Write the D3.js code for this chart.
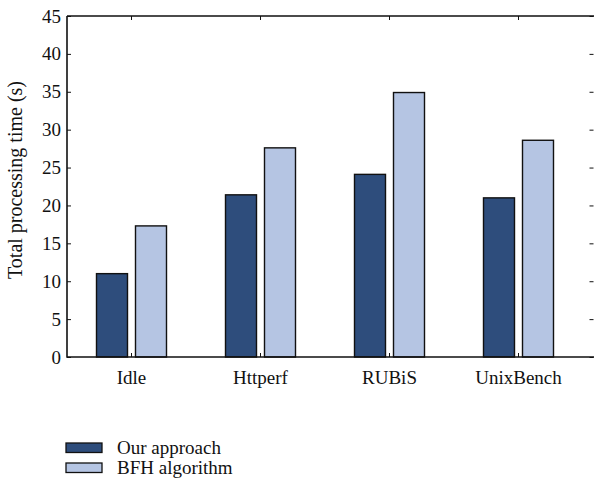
<!DOCTYPE html>
<html>
<head>
<meta charset="utf-8">
<script src="https://cdn.jsdelivr.net/npm/d3@7"></script>
<style>
  html, body { margin: 0; padding: 0; background: #fff; }
  svg { display: block; }
</style>
</head>
<body>
<svg id="chart" width="594" height="485"></svg>
<script>
// Benchmarks and processing times (seconds)
const categories = ["Idle", "Httperf", "RUBiS", "UnixBench"];
const seriesNames = ["Our approach", "BFH algorithm"];
const ourApproach = [11.0, 21.4, 24.1, 21.0];
const bfhAlgorithm = [17.3, 27.6, 34.9, 28.6];
const yTicks = [0, 5, 10, 15, 20, 25, 30, 35, 40, 45];
const colors = ["#2e4d7c", "#b5c5e3"];

const FONT = "'Liberation Serif', 'Times New Roman', serif";
const svg = d3.select("#chart").attr("font-family", FONT);
const plot = { left: 67, right: 595, top: 16, bottom: 357 };
const step = 129;

// Category band: centres spaced evenly from the left edge of the frame
const x = d3.scaleBand()
  .domain(categories)
  .range([plot.left, plot.left + step * categories.length])
  .paddingInner(0).paddingOuter(0);

const y = d3.scaleLinear().domain([0, 45]).range([plot.bottom, plot.top]);

const barW = 31, barOff = 19.5;
const series = [ourApproach, bfhAlgorithm];

// Bars
series.forEach((vals, si) => {
  svg.append("g").selectAll("rect")
    .data(categories.map((c, i) => ({ c, v: vals[i] })))
    .join("rect")
    .attr("x", d => x(d.c) + x.bandwidth() / 2 + (si === 0 ? -barOff : barOff) - barW / 2)
    .attr("y", d => y(d.v))
    .attr("width", barW)
    .attr("height", d => plot.bottom - y(d.v))
    .attr("fill", colors[si])
    .attr("stroke", "#111")
    .attr("stroke-width", 1.4);
});

function styleAxis(g) {
  g.attr("font-family", FONT).attr("font-size", 19);
  g.select(".domain").remove();
  g.selectAll("line").attr("stroke", "#111").attr("stroke-width", 1);
  g.selectAll("text").attr("fill", "#111");
}

// Left axis with labels, inward ticks
const gL = svg.append("g").attr("transform", `translate(${plot.left},0)`)
  .call(d3.axisLeft(y).tickValues(yTicks).tickSize(-4).tickPadding(6).tickFormat(d3.format("d")));
styleAxis(gL);

// Right-side inward ticks
const gR = svg.append("g").attr("transform", `translate(${plot.right - 1.5},0)`)
  .call(d3.axisRight(y).tickValues(yTicks).tickSize(-4).tickFormat(""));
styleAxis(gR);

// Bottom axis with category labels, inward ticks
const gB = svg.append("g").attr("transform", `translate(0,${plot.bottom})`)
  .call(d3.axisBottom(x).tickSize(-4).tickPadding(14));
styleAxis(gB);

// Top inward ticks
const gT = svg.append("g").attr("transform", `translate(0,${plot.top})`)
  .call(d3.axisTop(x).tickSize(-4).tickFormat(""));
styleAxis(gT);

// Frame
svg.append("path")
  .attr("d", `M${plot.left},${plot.top}H${plot.right}M${plot.left},${plot.top}V${plot.bottom}H${plot.right}`)
  .attr("fill", "none").attr("stroke", "#111").attr("stroke-width", 1.6);

// Y axis title
svg.append("text")
  .attr("transform", `translate(22,180) rotate(-90)`)
  .attr("text-anchor", "middle")
  .attr("font-size", 20)
  .attr("fill", "#111")
  .text("Total processing time (s)");

// Legend
const legend = svg.append("g").attr("transform", "translate(66,443)");
seriesNames.forEach((name, i) => {
  const g = legend.append("g").attr("transform", `translate(0,${i * 20})`);
  g.append("rect").attr("x", 0).attr("y", 0).attr("width", 36).attr("height", 9.5)
    .attr("fill", colors[i]).attr("stroke", "#111").attr("stroke-width", 1.3);
  g.append("text").attr("x", 51).attr("y", 10.5).attr("font-size", 19).attr("fill", "#111").text(name);
});
</script>
</body>
</html>
